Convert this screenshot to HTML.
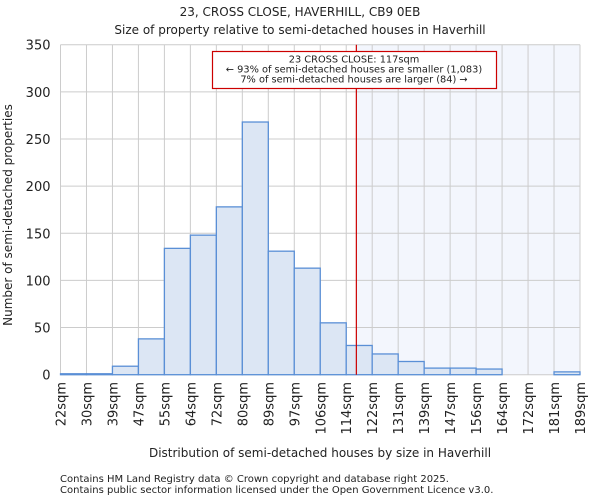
<!DOCTYPE html>
<html><head><meta charset="utf-8"><style>
body{margin:0;background:#fff;font-family:"DejaVu Sans","Liberation Sans",sans-serif;}
svg text{font-family:"DejaVu Sans","Liberation Sans",sans-serif;fill:#222;}
</style></head><body>
<svg id="chart" width="600" height="500" xmlns="http://www.w3.org/2000/svg">
<text x="300" y="16" font-size="12" text-anchor="middle">23, CROSS CLOSE, HAVERHILL, CB9 0EB</text>
<text x="300" y="34" font-size="12" text-anchor="middle">Size of property relative to semi-detached houses in Haverhill</text>
<g id="grid"></g><g id="bars"></g><g id="axes"></g>
<text x="320" y="457" font-size="12" text-anchor="middle">Distribution of semi-detached houses by size in Haverhill</text>
<text transform="translate(12,215) rotate(-90)" font-size="12" text-anchor="middle">Number of semi-detached properties</text>
<text x="60" y="482" font-size="10">Contains HM Land Registry data © Crown copyright and database right 2025.</text>
<text x="60" y="493" font-size="10">Contains public sector information licensed under the Open Government Licence v3.0.</text>
</svg>
<script>
const categories=["22sqm","30sqm","39sqm","47sqm","55sqm","64sqm","72sqm","80sqm","89sqm","97sqm","106sqm","114sqm","122sqm","131sqm","139sqm","147sqm","156sqm","164sqm","172sqm","181sqm","189sqm"];
const counts=[1,1,9,38,134,148,178,268,131,113,55,31,22,14,7,7,6,0,0,3];
const yTicks=[0,50,100,150,200,250,300,350];
const markerBin=11.39;
const annotation=["23 CROSS CLOSE: 117sqm","← 93% of semi-detached houses are smaller (1,083)","7% of semi-detached houses are larger (84) →"];
const X0=60.5,X1=580,Y0=374.7,Y1=44.7,YMAX=350;
const ns="http://www.w3.org/2000/svg";
const bw=(X1-X0)/counts.length;
const xs=i=>X0+i*bw;
const ys=v=>Y0-(v/YMAX)*(Y0-Y1);
function mk(p,t,a){const e=document.createElementNS(ns,t);for(const k in a)e.setAttribute(k,a[k]);p.appendChild(e);return e;}
const grid=document.getElementById('grid'),bars=document.getElementById('bars'),axes=document.getElementById('axes');
const mx=xs(markerBin);
const sh=mk(grid,'rect',{x:mx,y:Y1,width:X1-mx,height:Y0-Y1,fill:'#f3f6fd'});


for(let i=0;i<=counts.length;i++){const l=mk(grid,'line',{x1:xs(i),x2:xs(i),y1:Y1,y2:Y0,stroke:'#ccc','stroke-width':1});

}
yTicks.forEach(t=>{const l=mk(grid,'line',{x1:X0,x2:X1,y1:ys(t),y2:ys(t),stroke:'#ccc','stroke-width':1});


const tx=mk(axes,'text',{x:X0-10,y:ys(t)+5,'font-size':13,'text-anchor':'end'});tx.textContent=t;

});
counts.forEach((c,i)=>{const r=mk(bars,'rect',{x:xs(i),y:ys(c),width:bw,height:Y0-ys(c),fill:'#dce6f4',stroke:'#5a8fd6','stroke-width':1.3});

});
categories.forEach((c,i)=>{const tx=mk(axes,'text',{transform:`translate(${xs(i)+5},382) rotate(-90)`,'font-size':13,'text-anchor':'end'});tx.textContent=c;

});
const ml=mk(axes,'line',{x1:mx,x2:mx,y1:Y1,y2:Y0,stroke:'#cc0000','stroke-width':1.2});


const box=mk(axes,'rect',{x:212.5,y:51.5,width:284,height:37,fill:'#fff',stroke:'#cc0000','stroke-width':1.2});


annotation.forEach((s,i)=>{const tx=mk(axes,'text',{x:354,y:62.5+i*10,'font-size':9.8,'text-anchor':'middle'});tx.textContent=s;

});
</script>
</body></html>
